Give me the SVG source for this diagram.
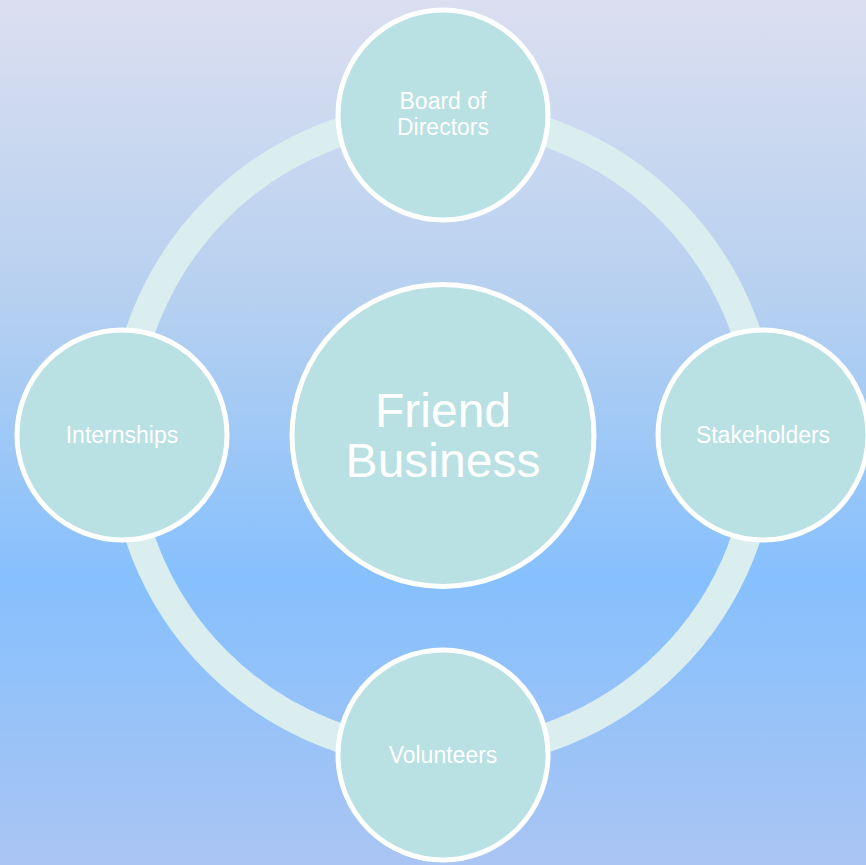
<svg xmlns="http://www.w3.org/2000/svg" width="866" height="865" viewBox="0 0 866 865">
<defs>
<linearGradient id="bg" x1="0" y1="0" x2="0" y2="1">
<stop offset="0" stop-color="#dbdff0"/>
<stop offset="0.35" stop-color="#b6d0f0"/>
<stop offset="0.67" stop-color="#86c0fd"/>
<stop offset="1" stop-color="#aac5f3"/>
</linearGradient>
<style>
.node{fill:#b9e0e2;stroke:#ffffff;stroke-width:5}
.t{fill:#ffffff;font-family:"Liberation Sans",Arial,sans-serif;text-anchor:middle}
.s{font-size:23px}
.b{font-size:48px}
</style>
</defs>
<rect width="866" height="865" fill="url(#bg)"/>
<g id="connectors">
<circle cx="443" cy="435" r="320" fill="none" stroke="#daeef0" stroke-width="29"/>
</g>
<g id="center">
<circle class="node" cx="443" cy="435.5" r="151"/>
<text class="t b" x="443" y="427">Friend</text>
<text class="t b" x="443" y="477">Business</text>
</g>
<g id="board">
<circle class="node" cx="443" cy="115" r="105"/>
<text class="t s" x="443" y="109">Board of</text>
<text class="t s" x="443" y="135">Directors</text>
</g>
<g id="stakeholders">
<circle class="node" cx="763" cy="435" r="105"/>
<text class="t s" x="763" y="443">Stakeholders</text>
</g>
<g id="volunteers">
<circle class="node" cx="443" cy="755" r="105"/>
<text class="t s" x="443" y="763">Volunteers</text>
</g>
<g id="internships">
<circle class="node" cx="122" cy="435" r="105"/>
<text class="t s" x="122" y="443">Internships</text>
</g>
</svg>
